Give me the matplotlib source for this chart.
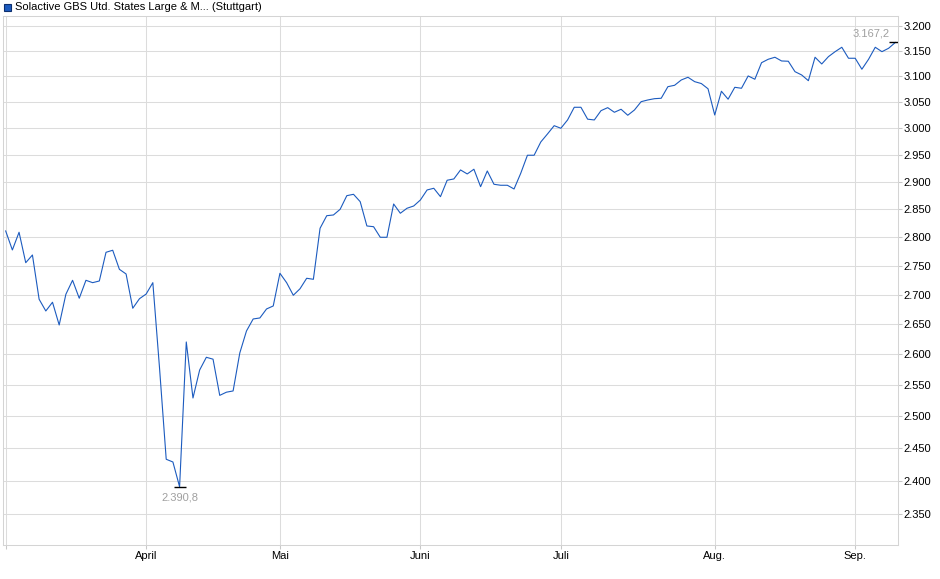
import numpy as np
import pandas as pd
import matplotlib
matplotlib.use("Agg")
import matplotlib.pyplot as plt
from matplotlib.patches import Rectangle

plt.rcParams['font.family'] = ['Liberation Sans', 'DejaVu Sans']

# Stuttgart trading days (German exchange holidays left out)
holidays = ['2025-04-18', '2025-04-21', '2025-05-01']
dates = pd.bdate_range('2025-03-03', '2025-09-09', freq='C', holidays=holidays)

prices = [
    2811.0, 2777.4, 2808.7, 2755.1, 2768.6, 2692.1, 2672.2, 2687.0, 2648.6, 2700.6,
    2724.6, 2693.8, 2724.6, 2720.5, 2723.4, 2773.3, 2776.9, 2743.6, 2735.5, 2676.8,
    2693.0, 2701.0, 2720.5, 2577.5, 2432.8, 2428.6, 2390.8, 2620.3, 2529.0, 2574.2,
    2595.0, 2591.9, 2533.2, 2538.3, 2540.3, 2602.1, 2638.6, 2658.7, 2660.4, 2675.6,
    2680.7, 2736.7, 2720.5, 2698.9, 2710.0, 2728.1, 2726.3, 2815.8, 2838.3, 2839.6,
    2849.8, 2874.5, 2877.0, 2863.6, 2819.9, 2818.6, 2799.8, 2799.8, 2859.4, 2842.7,
    2851.7, 2855.8, 2866.7, 2884.9, 2888.0, 2872.7, 2902.7, 2905.1, 2921.7, 2914.3,
    2923.0, 2890.9, 2919.8, 2895.3, 2893.5, 2893.5, 2886.7, 2915.5, 2949.0, 2949.0,
    2973.9, 2989.0, 3004.7, 2999.8, 3015.6, 3039.9, 3039.9, 3017.1, 3015.6, 3033.4,
    3039.2, 3030.3, 3036.1, 3024.6, 3034.7, 3050.7, 3054.0, 3056.5, 3057.3, 3079.8,
    3082.5, 3092.9, 3098.2, 3089.6, 3085.9, 3075.7, 3025.1, 3070.9, 3055.5, 3078.6,
    3076.7, 3100.8, 3094.3, 3126.9, 3133.7, 3137.7, 3130.3, 3129.8, 3109.2, 3102.7,
    3091.5, 3137.7, 3124.4, 3138.9, 3148.8, 3157.6, 3135.7, 3135.7, 3114.0, 3133.7,
    3157.6, 3148.8, 3155.6, 3167.2,
]

month_names = ['', 'April', 'Mai', 'Juni', 'Juli', 'Aug.', 'Sep.']
y_ticks = list(range(2350, 3201, 50))

s = pd.Series(prices, index=dates)
idx = np.arange(len(s))

# first trading day of each month
month_first = [i for i in idx if i == 0 or dates[i].month != dates[i - 1].month]

def de_num(v, dec=0):
    txt = f"{v:,.{dec}f}"
    return txt.replace(',', 'X').replace('.', ',').replace('X', '.')

fig = plt.figure(figsize=(9.4, 5.79), dpi=100)
ax = fig.add_axes([3 / 940, 34 / 579, 895 / 940, 529 / 579])

ax.plot(idx, s.values, color='#1c5bbf', lw=0.8)

ax.set_yscale('log')
ax.set_ylim(2304.3, 3220.7)
ax.set_xlim(-0.4, 133.4)

ax.set_yticks(y_ticks)
ax.set_yticklabels([de_num(v) for v in y_ticks])
ax.yaxis.set_minor_locator(plt.NullLocator())
ax.yaxis.tick_right()

ax.set_xticks(month_first)
ax.set_xticklabels(month_names)

ax.grid(True, color='#dcdcdc', lw=0.75)
ax.set_axisbelow(True)
for sp in ax.spines.values():
    sp.set_color('#d4d4d4')
    sp.set_linewidth(0.75)
ax.tick_params(axis='both', colors='#c8c8c8', labelcolor='black', labelsize=8,
               length=3, width=0.75, pad=1)

# min / max markers
i_min = int(np.argmin(s.values))
i_max = int(np.argmax(s.values))
for i, off, ha in [(i_min, (0, -11), 'center'), (i_max, (-6, 9), 'right')]:
    ax.plot(i, s.values[i], marker='_', ms=8, mew=1.0, color='black')
    ax.annotate(de_num(s.values[i], 1), (i, s.values[i]), xytext=off,
                textcoords='offset pixels', ha=ha, va='center',
                fontsize=8, color='#a0a0a0')

# legend at top left
fig.patches.append(Rectangle((4 / 940, 1 - 11 / 579), 7 / 940, 7 / 579,
                             transform=fig.transFigure, facecolor='#1c5bbf',
                             edgecolor='#0d2f6e', lw=0.8))
fig.text(15 / 940, 1 - 7 / 579, 'Solactive GBS Utd. States Large & M... (Stuttgart)',
         fontsize=8, va='center', ha='left')

fig.savefig('out.png', dpi=100)
